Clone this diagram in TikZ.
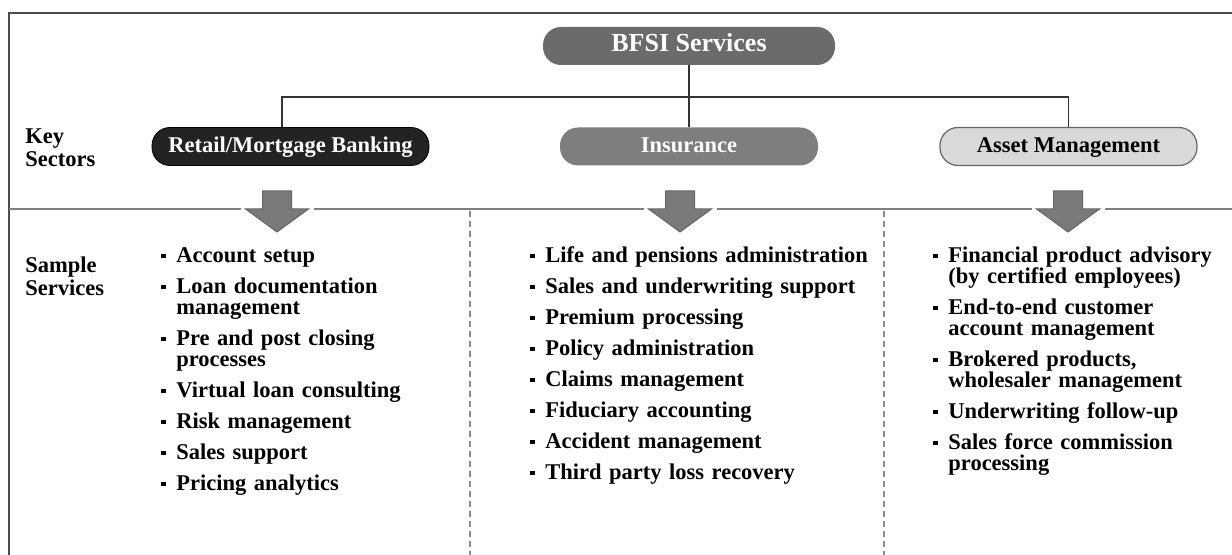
\documentclass[tikz,border=0pt]{standalone}
\usepackage{fontspec}
\setmainfont{Liberation Serif}
\definecolor{bfsigray}{HTML}{6B6B6B}
\definecolor{insgray}{HTML}{7E7E7E}
\definecolor{assetgray}{HTML}{D9D9D9}
\definecolor{retailblack}{HTML}{232323}
\definecolor{arrowgray}{HTML}{7A7A7A}
\newif\iffirstsvc
\newcommand{\svc}[1]{\iffirstsvc\global\firstsvcfalse\else\vskip5pt\fi
  \hangindent=7.5pt\hangafter=1\noindent\makebox[7.5pt][l]{\rule[2.3pt]{2.2pt}{2.2pt}}#1\par}
\tikzset{
  pill/.style={rounded corners=9pt, minimum height=19pt, inner sep=0pt,
    text height=8pt, text depth=2.4pt, font=\fontsize{11.25}{13}\selectfont\bfseries},
  svclist/.style={anchor=base west, inner sep=0pt, text width=#1, align=left,
    font=\fontsize{11.25}{10.5}\selectfont\bfseries,
    execute at begin node={\global\firstsvctrue\setlength{\parskip}{0pt}\setlength{\lineskiplimit}{-20pt}}},
  rowlabel/.style={svclist=50pt, font=\fontsize{11.25}{11.5}\selectfont\bfseries},
  link/.style={draw=black!80, line width=0.8pt},
  rule/.style={draw=black!50, line width=0.8pt}
}
\begin{document}
\begin{tikzpicture}[x=0.5pt, y=-0.5pt]
  \useasboundingbox (0,0) rectangle (1232,555);
  \def\Divider{209}   % y of the line between the two rows
  \def\Bus{97}        % y of the connector bar
  \def\ArrowY{191}    % top of the block arrows

  % frame
  \draw[draw=black!70, line width=1pt] (9,555) -- (9,13) -- (1232,13);
  \draw[rule] (9,\Divider) -- (240.5,\Divider) (313.5,\Divider) -- (643.5,\Divider)
    (716.5,\Divider) -- (1031.5,\Divider) (1104.5,\Divider) -- (1232,\Divider);
  \foreach \dx in {470,884} {
    \draw[draw=black!45, line width=0.6pt, dash pattern=on 3pt off 2pt] (\dx,\Divider+2) -- (\dx,555);
  }

  % sectors
  \node[pill, fill=bfsigray, text=white, minimum width=146pt, font=\fontsize{13}{15}\selectfont\bfseries]
    (bfsi) at (689,46) {BFSI Services};
  \node[pill, fill=retailblack, draw=black, text=white, minimum width=138.5pt]
    (retail) at (290.5,146.5) {Retail/Mortgage Banking};
  \node[pill, fill=insgray, text=white, minimum width=129pt]
    (insurance) at (689,146.5) {Insurance};
  \node[pill, fill=assetgray, draw=black!60, line width=0.6pt, minimum width=128.5pt]
    (asset) at (1068.5,146.5) {Asset Management};

  \coordinate (busL) at (282,\Bus);
  \draw[link] (bfsi) -- (insurance);
  \draw[link] (retail.north -| busL) -- (busL) -- (busL -| asset.north) -- (asset.north);

  \foreach \ax in {277,680,1068} {
    \filldraw[fill=arrowgray, draw=black!60, line width=0.5pt]
      (\ax-14.5,\ArrowY) -- ++(29,0) -- ++(0,18) -- ++(17,0) -- (\ax,232)
      -- (\ax-31.5,\ArrowY+18) -- ++(17,0) -- cycle;
  }

  % row labels
  \node[rowlabel] (keylbl) at (25,144) {Key\\Sectors};
  \node[rowlabel] (samplelbl) at (25,273) {Sample\\Services};

  % sample services
  \node[svclist=125pt] (retaillist) at (161,263) {%
    \svc{Account setup}
    \svc{Loan documentation\newline management}
    \svc{Pre and post closing\newline processes}
    \svc{Virtual loan consulting}
    \svc{Risk management}
    \svc{Sales support}
    \svc{Pricing analytics}};
  \node[svclist=170pt] (inslist) at (530,263) {%
    \svc{Life and pensions administration}
    \svc{Sales and underwriting support}
    \svc{Premium processing}
    \svc{Policy administration}
    \svc{Claims management}
    \svc{Fiduciary accounting}
    \svc{Accident management}
    \svc{Third party loss recovery}};
  \node[svclist=145pt] (assetlist) at (933,263) {%
    \svc{Financial product advisory\newline (by certified employees)}
    \svc{End-to-end customer\newline account management}
    \svc{Brokered products,\newline wholesaler management}
    \svc{Underwriting follow-up}
    \svc{Sales force commission\newline processing}};
\end{tikzpicture}
\end{document}
